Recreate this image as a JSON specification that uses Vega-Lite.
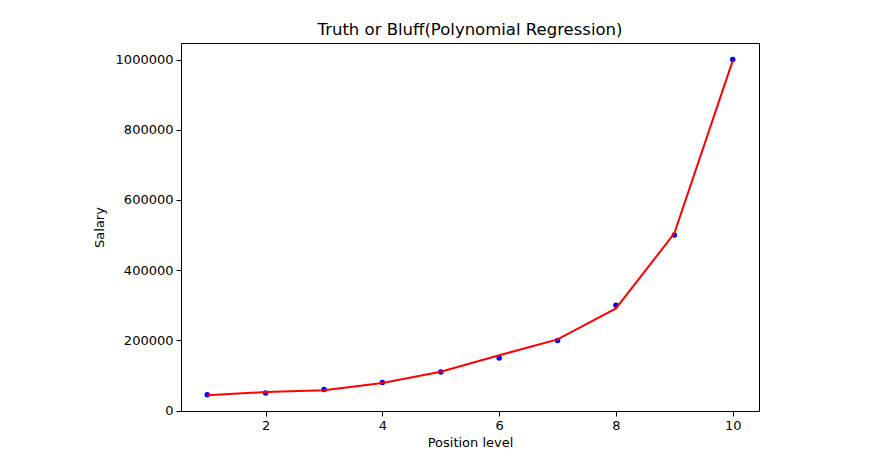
{
  "$schema": "https://vega.github.io/schema/vega-lite/v6.json",
  "autosize": {"type": "none"},
  "width": 578,
  "height": 368,
  "padding": {"left": 181, "top": 43, "right": 110, "bottom": 46},
  "background": "white",
  "title": {"text": "Truth or Bluff(Polynomial Regression)", "font": "DejaVu Sans", "fontSize": 16.5, "fontWeight": "normal", "color": "black", "offset": 5},
  "config": {
    "view": {"stroke": "black", "strokeWidth": 1},
    "axis": {"grid": false, "domainColor": "black", "tickColor": "black", "tickSize": 5, "labelFont": "DejaVu Sans", "labelFontSize": 13, "labelColor": "black", "titleFont": "DejaVu Sans", "titleFontSize": 13, "titleFontWeight": "normal", "titleColor": "black", "labelPadding": 3}
  },
  "datasets": {
    "pts": [
      {"level": 1, "salary": 45000, "pred": 43800},
      {"level": 2, "salary": 50000, "pred": 53200},
      {"level": 3, "salary": 60000, "pred": 58000},
      {"level": 4, "salary": 80000, "pred": 78800},
      {"level": 5, "salary": 110000, "pred": 111000},
      {"level": 6, "salary": 150000, "pred": 157600},
      {"level": 7, "salary": 200000, "pred": 203000},
      {"level": 8, "salary": 300000, "pred": 291000},
      {"level": 9, "salary": 500000, "pred": 505000},
      {"level": 10, "salary": 1000000, "pred": 997000}
    ]
  },
  "data": {"name": "pts"},
  "layer": [
    {
      "mark": {"type": "point", "filled": true, "color": "blue", "size": 30, "opacity": 1},
      "encoding": {
        "x": {"field": "level", "type": "quantitative", "scale": {"domain": [0.55, 10.45], "nice": false, "zero": false}, "axis": {"values": [2, 4, 6, 8, 10], "format": "d", "title": "Position level", "titlePadding": 4}},
        "y": {"field": "salary", "type": "quantitative", "scale": {"domain": [-1000, 1047000], "nice": false, "zero": false}, "axis": {"values": [0, 200000, 400000, 600000, 800000, 1000000], "format": "d", "title": "Salary", "titlePadding": 9}}
      }
    },
    {
      "mark": {"type": "line", "color": "red", "strokeWidth": 2},
      "encoding": {
        "x": {"field": "level", "type": "quantitative"},
        "y": {"field": "pred", "type": "quantitative"}
      }
    }
  ]
}
